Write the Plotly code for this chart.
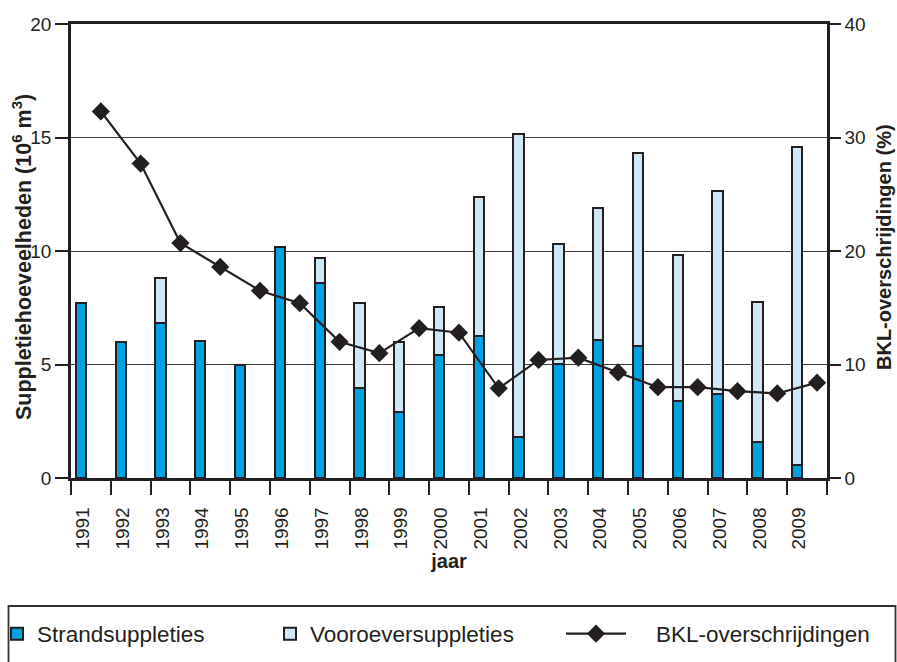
import plotly.graph_objects as go

years = [str(y) for y in range(1991, 2010)]
strand = [7.7, 5.97, 6.83, 6.03, 4.98, 10.16, 8.61, 3.97, 2.91, 5.41,
          6.26, 1.81, 5.01, 6.07, 5.81, 3.38, 3.72, 1.59, 0.56]
totaal = [7.7, 5.97, 8.83, 6.03, 4.98, 10.16, 9.69, 7.73, 5.97, 7.53,
          12.36, 15.15, 10.29, 11.88, 14.30, 9.82, 12.65, 7.76, 14.59]
vooroever = [round(t - s, 2) for t, s in zip(totaal, strand)]
bkl = [32.3, 27.7, 20.7, 18.6, 16.5, 15.4, 12.0, 11.0, 13.2, 12.8,
       7.9, 10.4, 10.6, 9.3, 8.0, 8.0, 7.65, 7.45, 8.4]

idx = list(range(len(years)))
bar_x = [i - 0.25 for i in idx]
line_x = [i + 0.25 for i in idx]
label_x = [i - 0.2 for i in idx]
bound_x = [i - 0.5 for i in range(len(years) + 1)]

INK = "#231f20"
FONT = "Liberation Sans, Arial, sans-serif"

W, H = 897, 662
L, R, T, B = 71, 70, 24, 184
PW, PH = W - L - R, H - T - B

def px(x):  # window pixel -> paper
    return (x - L) / PW

def py(y):
    return (H - B - y) / PH

fig = go.Figure()
fig.add_trace(go.Bar(
    x=bar_x, y=strand, width=0.26, name="Strandsuppleties",
    marker=dict(color="#00a3e0", line=dict(color=INK, width=2)),
    legend="legend"))
fig.add_trace(go.Bar(
    x=bar_x, y=vooroever, width=0.26, name="Vooroeversuppleties",
    marker=dict(color="#cfe8f7", line=dict(color=INK, width=2)),
    legend="legend2"))
fig.add_trace(go.Scatter(
    x=line_x, y=bkl, yaxis="y2", mode="lines+markers",
    name="\u00a0\u00a0\u00a0\u00a0BKL-overschrijdingen",
    line=dict(color=INK, width=2.2),
    marker=dict(symbol="diamond", size=14, color=INK),
    legend="legend3"))

leg_common = dict(orientation="h", yanchor="middle", xanchor="left",
                  y=py(634), font=dict(family=FONT, size=22.5, color=INK),
                  bgcolor="rgba(0,0,0,0)", borderwidth=0)

fig.update_layout(
    width=W, height=H,
    margin=dict(l=L, r=R, t=T, b=B, autoexpand=False),
    paper_bgcolor="white", plot_bgcolor="white",
    barmode="stack",
    font=dict(family=FONT, size=19, color=INK),
    showlegend=True,
    legend=dict(x=px(-3), **leg_common),
    legend2=dict(x=px(270), **leg_common),
    legend3=dict(x=px(561), itemwidth=60, **leg_common),
    xaxis=dict(
        range=[-0.5, len(years) - 0.5],
        tickmode="array", tickvals=label_x, ticktext=years,
        tickangle=-90, ticks="outside", ticklen=19, tickcolor="rgba(0,0,0,0)",
        tickfont=dict(size=19, color=INK),
        minor=dict(tickmode="array", tickvals=bound_x, ticks="outside",
                   ticklen=14, tickwidth=1.5, tickcolor=INK, showgrid=False),
        showline=True, linecolor=INK, linewidth=2.5, mirror=True,
        showgrid=False, zeroline=False,
        title=dict(text="<b>jaar</b>", font=dict(size=20, color=INK), standoff=6),
    ),
    yaxis=dict(
        range=[0, 20], dtick=5, tick0=0,
        ticks="outside", ticklen=13, tickwidth=1.5, tickcolor=INK,
        tickfont=dict(size=19, color=INK),
        showline=True, linecolor=INK, linewidth=2.5,
        showgrid=True, gridcolor="#3a3a3a", gridwidth=1.4, zeroline=False,
    ),
    yaxis2=dict(
        range=[0, 40], dtick=10, tick0=0, overlaying="y", side="right",
        ticks="outside", ticklen=11, tickwidth=1.5, tickcolor=INK,
        tickfont=dict(size=19, color=INK),
        showline=True, linecolor=INK, linewidth=2.5,
        showgrid=False, zeroline=False,
    ),
    annotations=[
        dict(text="<b>Suppletiehoeveelheden (10<sup>6</sup> m<sup>3</sup>)</b>",
             xref="paper", yref="paper", x=px(22), y=py(257),
             xanchor="center", yanchor="middle", textangle=-90, showarrow=False,
             font=dict(family=FONT, size=21.5, color=INK)),
        dict(text="<b>BKL-overschrijdingen (%)</b>",
             xref="paper", yref="paper", x=px(884), y=py(247),
             xanchor="center", yanchor="middle", textangle=-90, showarrow=False,
             font=dict(family=FONT, size=20, color=INK)),
    ],
    shapes=[dict(type="rect", xref="paper", yref="paper",
                 x0=px(8.5), x1=px(895.5), y0=py(606), y1=py(690),
                 line=dict(color="#333333", width=1.8), fillcolor="rgba(0,0,0,0)")],
)

fig.write_html("out.html",
               config={"displayModeBar": False},
               post_script="document.body.style.margin='0';document.body.style.overflow='hidden';")
